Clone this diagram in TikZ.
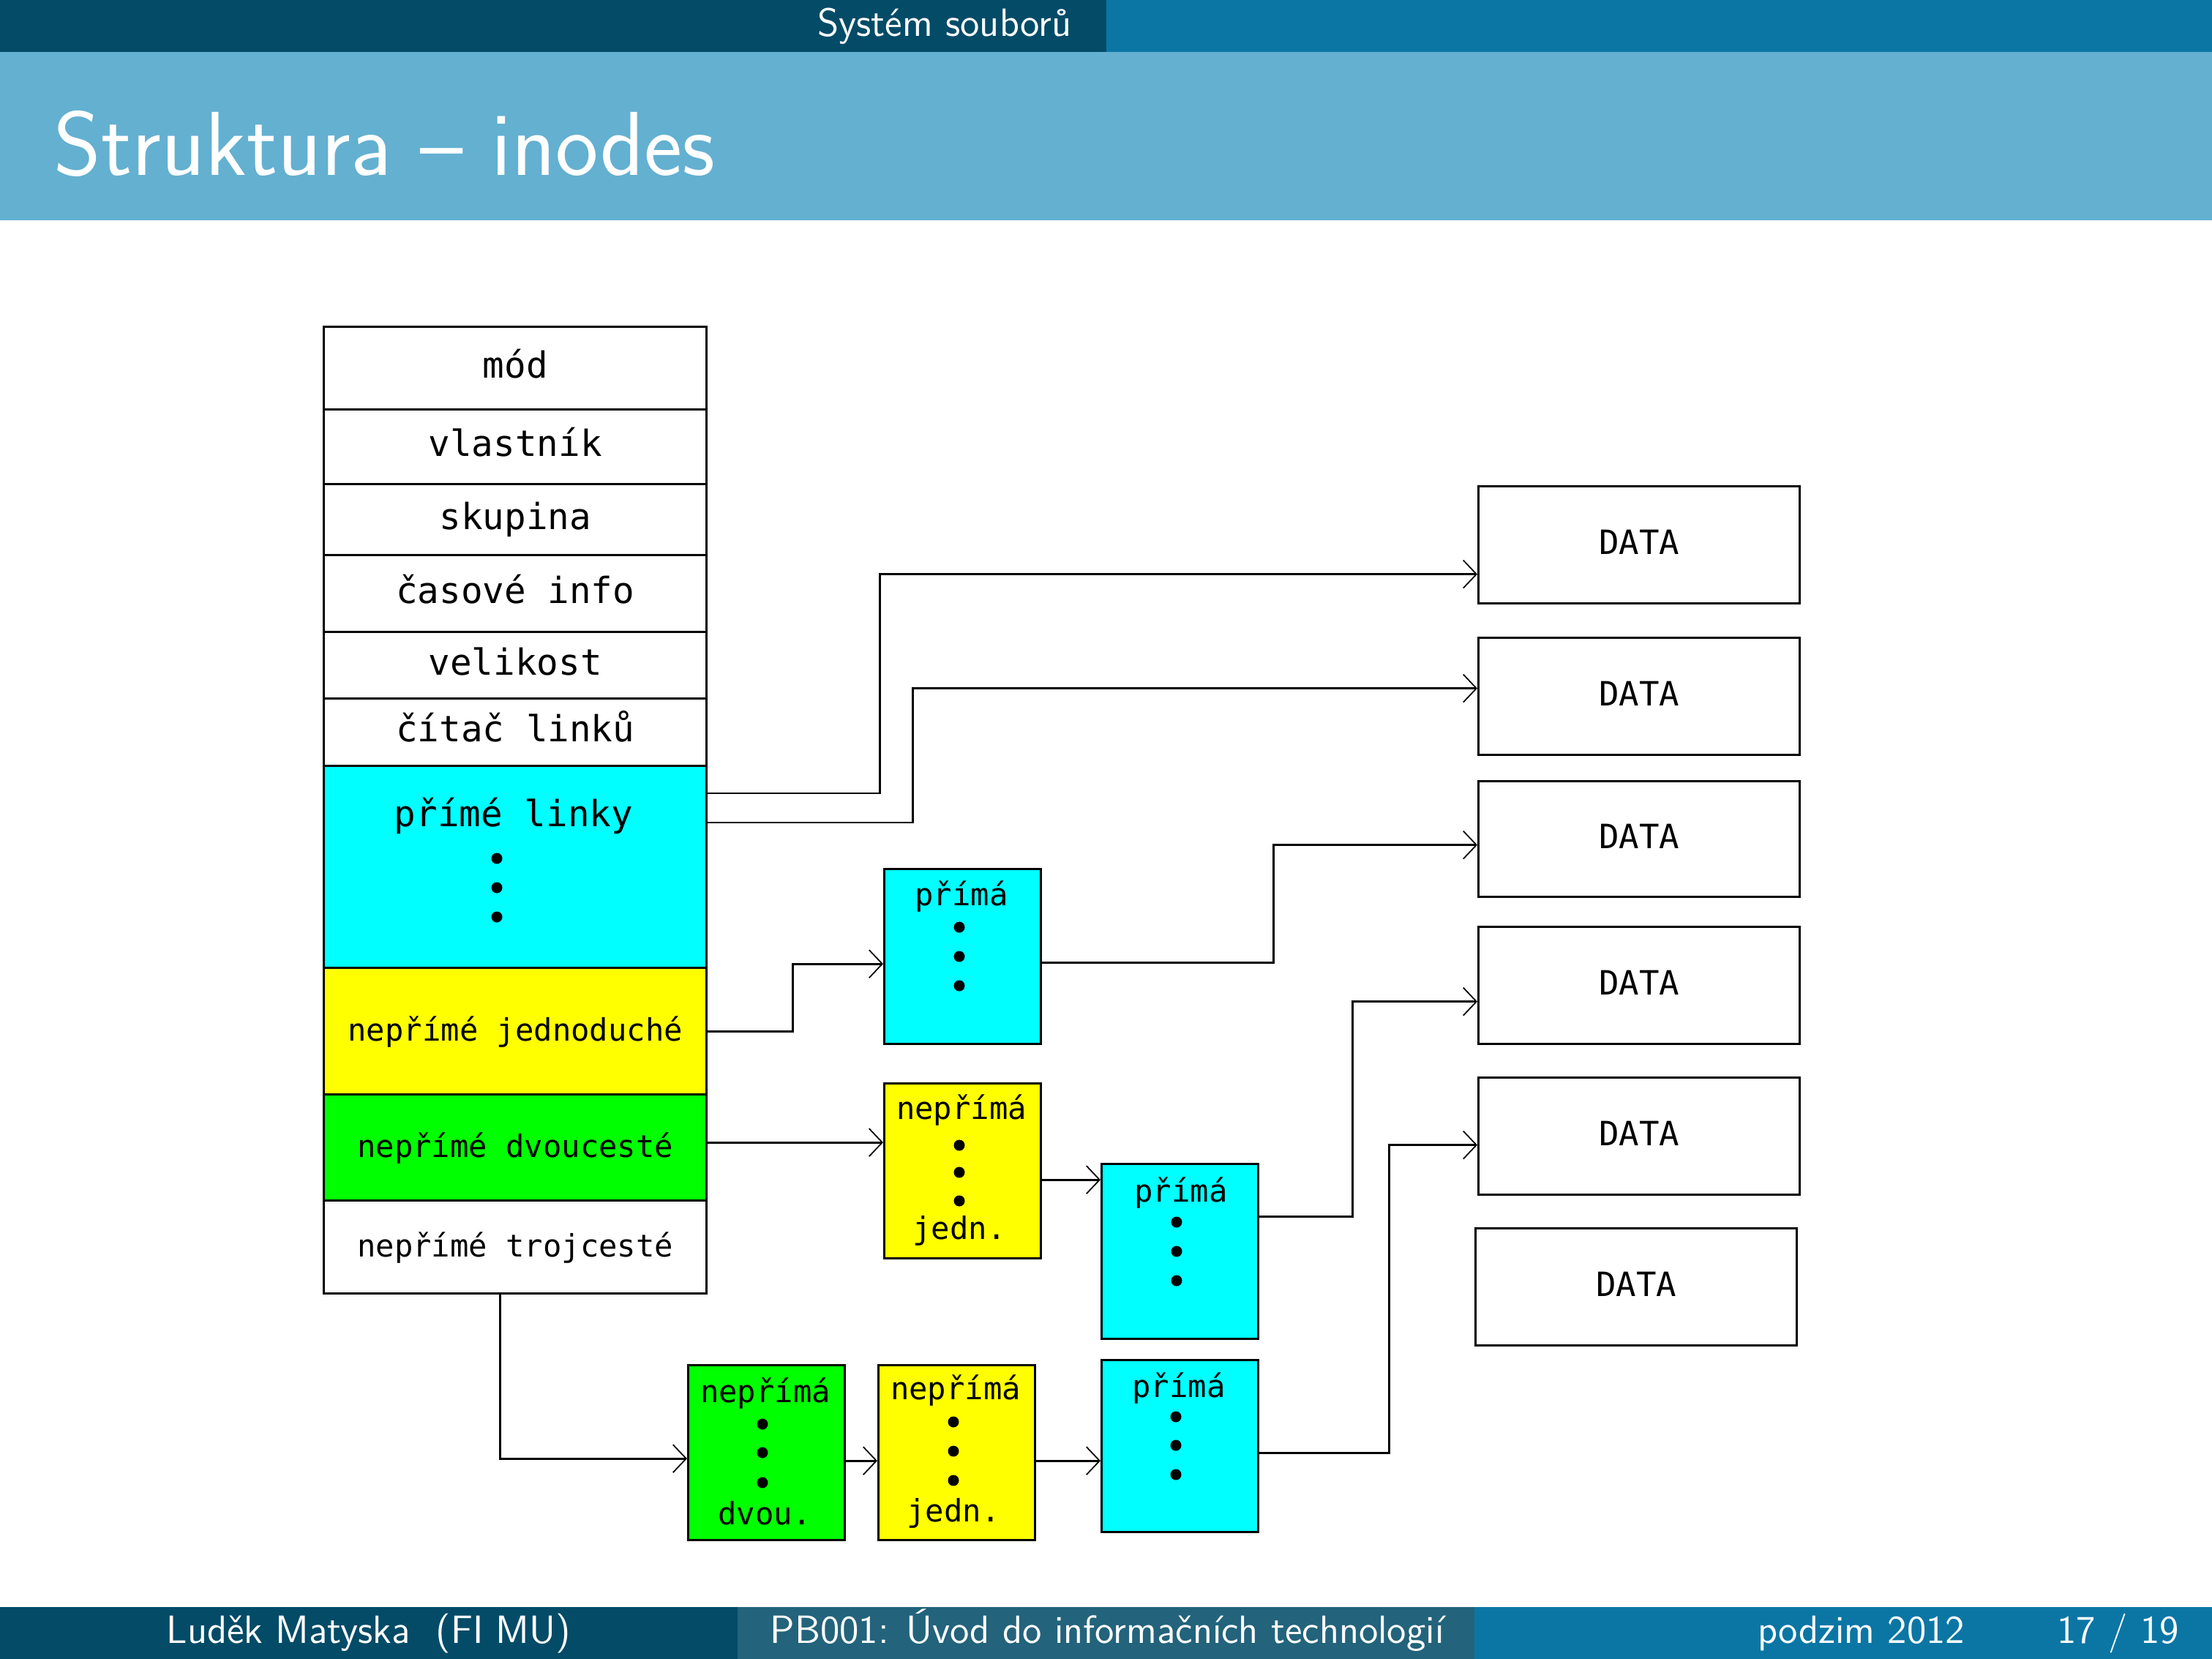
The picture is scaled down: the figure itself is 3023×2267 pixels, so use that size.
\documentclass[tikz,border=0pt]{standalone}
\usepackage{fontspec}
\newfontfamily\diafont{DejaVu Sans Mono}
\usetikzlibrary{arrows.meta,calc}
\definecolor{hdark}{HTML}{034B67}
\definecolor{hmid}{HTML}{0B76A4}
\definecolor{hlight}{HTML}{63B0D1}
\definecolor{fmid}{HTML}{23637B}
\definecolor{icyan}{HTML}{00FFFF}
\definecolor{iyellow}{HTML}{FFFF00}
\definecolor{igreen}{HTML}{00FF00}
\begin{document}
\begin{tikzpicture}[x=0.01cm,y=-0.01cm,
  cell/.style={draw,line width=0.9pt,inner sep=0pt,minimum width=5.23cm,anchor=north west,
    font=\diafont\fontsize{14pt}{16pt}\selectfont,text height=0.75em,text depth=0pt},
  sbox/.style={draw,line width=0.9pt,inner sep=0pt,minimum width=2.14cm,minimum height=2.39cm,anchor=north west},
  dbox/.style={draw,line width=0.9pt,inner sep=0pt,minimum width=4.39cm,minimum height=1.60cm,anchor=north west,
    font=\diafont\fontsize{13pt}{15pt}\selectfont,text height=0.73em,text depth=0pt},
  lbl/.style={font=\diafont\fontsize{12pt}{14pt}\selectfont,inner sep=0pt,anchor=base},
  conn/.style={line width=0.85pt,-{Straight Barb[length=0.18cm,width=0.38cm,line width=0.5pt]}},
  hdr/.style={text=white,inner sep=0pt,font=\sffamily\fontsize{15.3pt}{18pt}\selectfont}
]
\useasboundingbox (0,0) rectangle (3023,2267);
\fill[white] (0,0) rectangle (3023,2267);
% header
\fill[hdark] (0,0) rectangle (1512,71);
\fill[hmid] (1512,0) rectangle (3023,71);
\fill[hlight] (0,71) rectangle (3023,301);
\node[hdr,anchor=base east] (sec) at (1465,50) {Systém souborů};
\node[text=white,inner sep=0pt,anchor=base west,font=\sffamily\fontsize{35.3pt}{42pt}\selectfont] (title) at (73,240) {Struktura – inodes};
% footer
\fill[hdark] (0,2196) rectangle (1008,2267);
\fill[fmid] (1008,2196) rectangle (2015,2267);
\fill[hmid] (2015,2196) rectangle (3023,2267);
\node[hdr,anchor=base] (fa) at (504,2245) {Luděk Matyska\ \ (FI MU)};
\node[hdr,anchor=base] (fb) at (1513,2245) {PB001: Úvod do informačních technologií};
\node[hdr,anchor=base east] (fc) at (2686,2245) {podzim 2012};
\node[hdr,anchor=base east] (fd) at (2979,2245) {17 / 19};

% inode table
\node[cell,minimum height=1.13cm] (mod) at (441,445) {mód};
\node[cell,minimum height=1.02cm] (vl) at (441,558) {vlastník};
\node[cell,minimum height=0.97cm] (sk) at (441,660) {skupina};
\node[cell,minimum height=1.05cm] (cas) at (441,757) {časové info};
\node[cell,minimum height=0.91cm] (vel) at (441,862) {velikost};
\node[cell,minimum height=0.92cm] (cit) at (441,953) {čítač linků};
\node[cell,fill=icyan,minimum height=2.76cm] (prime) at (441,1045) {};
\node[cell,fill=iyellow,font=\diafont\fontsize{12pt}{14pt}\selectfont,minimum height=1.73cm] (nj) at (441,1321) {nepřímé jednoduché};
\node[cell,fill=igreen,font=\diafont\fontsize{12pt}{14pt}\selectfont,minimum height=1.45cm] (nd) at (441,1494) {nepřímé dvoucesté};
\node[cell,font=\diafont\fontsize{12pt}{14pt}\selectfont,minimum height=1.27cm] (nt) at (441,1639) {nepřímé trojcesté};
\node[lbl,font=\diafont\fontsize{14pt}{16pt}\selectfont] (primel) at (702,1129) {přímé linky};
\foreach \yy in {1173,1213,1253} \fill (679,\yy) circle[radius=0.075cm];

% small blocks
\node[sbox,fill=icyan] (p1) at (1207,1186) {};
\node[lbl] (p1l) at (1314,1237) {přímá};
\foreach \yy in {81,121,161} \fill (1311,1186+\yy) circle[radius=0.075cm];

\node[sbox,fill=iyellow] (y1) at (1207,1479) {};
\node[lbl] (y1l) at (1314,1529) {nepřímá};
\foreach \yy in {86,123,162} \fill (1311,1479+\yy) circle[radius=0.075cm];
\node[lbl] (y1b) at (1311,1693) {jedn.};

\node[sbox,fill=icyan] (p2) at (1504,1589) {};
\node[lbl] (p2l) at (1614,1642) {přímá};
\foreach \yy in {81,121,161} \fill (1608,1589+\yy) circle[radius=0.075cm];

\node[sbox,fill=igreen] (g) at (939,1864) {};
\node[lbl] (gl) at (1046,1916) {nepřímá};
\foreach \yy in {82,121,162} \fill (1042,1864+\yy) circle[radius=0.075cm];
\node[lbl] (gb) at (1045,2083) {dvou.};

\node[sbox,fill=iyellow] (yb) at (1199,1864) {};
\node[lbl] (ybl) at (1306,1912) {nepřímá};
\foreach \yy in {79,119,159} \fill (1303,1864+\yy) circle[radius=0.075cm];
\node[lbl] (ybb) at (1303,2079) {jedn.};

\node[sbox,fill=icyan,minimum height=2.35cm] (p3) at (1504,1857) {};
\node[lbl] (p3l) at (1611,1909) {přímá};
\foreach \yy in {79,118,158} \fill (1607,1857+\yy) circle[radius=0.075cm];

% data blocks
\node[dbox] (d1) at (2019,663) {DATA};
\node[dbox] (d2) at (2019,870) {DATA};
\node[dbox,minimum height=1.58cm] (d3) at (2019,1066) {DATA};
\node[dbox] (d4) at (2019,1265) {DATA};
\node[dbox] (d5) at (2019,1471) {DATA};
\node[dbox] (d6) at (2015,1677) {DATA};

% connectors
\draw[conn] ($(prime.north east)+(0,39)$) -- ++(235,0) |- ($(d1.west)+(0,40)$);
\draw[conn] ($(prime.north east)+(0,79)$) -- ++(280,0) |- ($(d2.west)+(0,-11)$);
\draw[conn] (nj.east) -- ++(116,0) |- ($(p1.west)+(0,10)$);
\draw[conn] ($(p1.east)+(0,8)$) -- ++(316,0) |- ($(d3.west)+(0,8)$);
\coordinate (e5) at ($(y1.west)+(0,-39)$);
\draw[conn] (nd.east |- e5) -- (e5);
\coordinate (s6) at ($(y1.east)+(0,12)$);
\draw[conn] (s6) -- (s6 -| p2.west);
\draw[conn] ($(p2.east)+(0,-48)$) -- ++(127,0) |- ($(d4.west)+(0,22)$);
\coordinate (e8) at ($(g.west)+(0,8)$);
\draw[conn] ($(nt.south)+(-21,0)$) |- (e8);
\coordinate (s9) at ($(g.east)+(0,11)$);
\draw[conn] (s9) -- (s9 -| yb.west);
\coordinate (s10) at ($(yb.east)+(0,11)$);
\draw[conn] (s10) -- (s10 -| p3.west);
\draw[conn] ($(p3.east)+(0,9)$) -- ++(177,0) |- ($(d5.west)+(0,12)$);
\end{tikzpicture}
\end{document}
